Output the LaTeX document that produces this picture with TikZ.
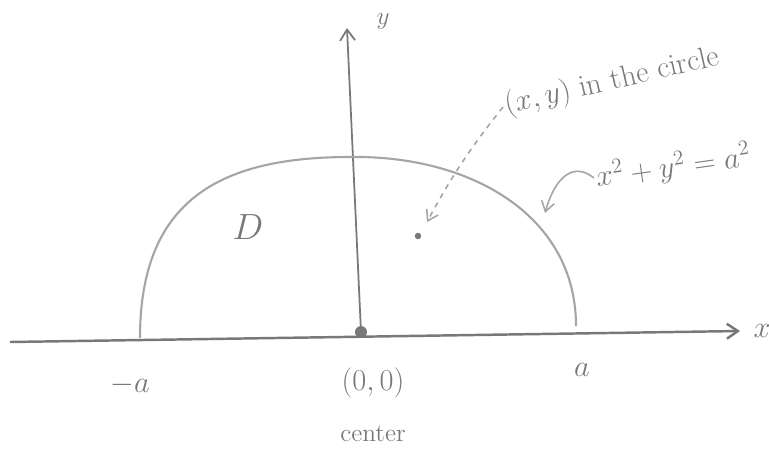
\documentclass[tikz,border=0pt]{standalone}
\usepackage{amsmath}
\usepackage{tikz}
\usetikzlibrary{arrows.meta,positioning,calc}

\definecolor{pencil}{RGB}{120,120,120}
\definecolor{pencillight}{RGB}{165,165,165}

\begin{document}
\begin{tikzpicture}[
      axisline/.style={draw=pencil, line width=1.4pt, -{Straight Barb[length=2.2mm, width=3mm]}},
      arcline/.style={draw=pencillight, line width=1.2pt},
      pointer/.style={draw=pencillight, line width=0.9pt, -{Straight Barb[length=2mm, width=2.6mm]}},
      sketchlbl/.style={text=pencil, font=\LARGE},
      dot/.style={circle, fill=pencil, inner sep=0pt}
    ]
    \useasboundingbox (-7.22,-2.38) rectangle (8.16,6.64);
    % axes
    \node[dot, minimum size=2.4mm] (origin) at (0,0) {};
    \coordinate (xleft) at (-7.02,-0.2);
    \coordinate (xright) at (7.58,0.02);
    \coordinate (ytop) at (-0.28,6.08);
    \draw[axisline] (xleft) -- (xright);
    \draw[axisline, line width=1pt] (origin.center) -- (ytop);
    \node[sketchlbl, right=0.15cm of xright] (xlbl) {$x$};
    \node[sketchlbl, font=\Large] (ylbl) at (0.44,6.2) {$y$};
    % upper half of the disc
    \coordinate (left) at (-4.42,-0.12);
    \coordinate (top) at (-0.22,3.5);
    \coordinate (right) at (4.3,0.12);
    \draw[arcline] (left) .. controls (-4.42,2.64) and (-2.82,3.5) .. (top)
      .. controls (2.18,3.54) and (4.3,2.34) .. (right);
    \node[sketchlbl, font=\huge] (region) at (-2.26,2.1) {$D$};
    \node[dot, minimum size=1.3mm] (pt) at (1.14,1.92) {};
    % labels
    \node[sketchlbl] (minusa) at (-4.62,-1.06) {$-a$};
    \node[sketchlbl] (plusa) at (4.42,-0.76) {$a$};
    \node[sketchlbl] (orglbl) at (0.24,-1.02) {$(0,0)$};
    \node[sketchlbl, font=\Large, below=0.3cm of orglbl] (centerlbl) {center};
    \node[sketchlbl, rotate=13, anchor=west, inner sep=1pt] (ptlbl) at (2.84,4.5) {$(x,y)$ in the circle};
    \node[sketchlbl, rotate=8, anchor=west, inner sep=1pt] (circeq) at (4.66,3.08) {$x^2+y^2=a^2$};
    \coordinate (ptend) at (1.32,2.2);
    \coordinate (arcpt) at (3.68,2.38);
    \draw[pointer, dashed] (ptlbl.west) to[bend right=5] (ptend);
    \draw[pointer] (circeq.west) .. controls (4.2,3.45) and (3.85,3.0) .. (arcpt);
\end{tikzpicture}
\end{document}
